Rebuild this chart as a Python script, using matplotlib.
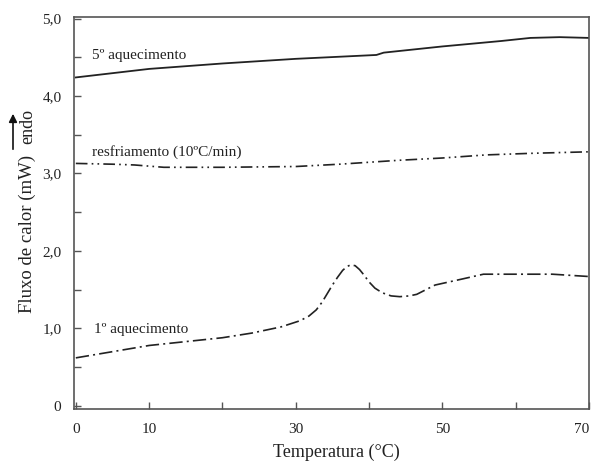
import numpy as np
import matplotlib
matplotlib.use("Agg")
import matplotlib.pyplot as plt
from matplotlib.patches import FancyArrowPatch

plt.rcParams['font.family'] = ['Liberation Serif', 'DejaVu Serif']

# 5º aquecimento (solid)
t_5aq = [0, 10, 20, 30, 41, 42, 50, 58, 62, 66, 70]
y_5aq = [4.24, 4.35, 4.42, 4.48, 4.53, 4.56, 4.64, 4.71, 4.75, 4.76, 4.75]

# resfriamento (10ºC/min)
t_resf = [0, 5, 8, 12, 20, 30, 36, 44, 50, 56, 62, 70]
y_resf = [3.13, 3.12, 3.11, 3.08, 3.08, 3.09, 3.12, 3.17, 3.20, 3.24, 3.26, 3.28]

# 1º aquecimento
t_1aq = [0, 5, 10, 15, 20, 24, 28, 30.6, 31.8, 32.8, 33.6, 34.3, 35, 35.7,
         36.4, 37, 37.5, 38.1, 38.7, 39.3, 40, 40.8, 41.8, 43, 44.2, 45.5,
         46.5, 49, 52.8, 55.6, 60, 65, 70]
y_1aq = [0.62, 0.70, 0.78, 0.83, 0.88, 0.94, 1.02, 1.10, 1.16, 1.24, 1.34, 1.45,
         1.56, 1.66, 1.75, 1.80, 1.82, 1.81, 1.76, 1.69, 1.60, 1.52, 1.46, 1.42,
         1.41, 1.42, 1.44, 1.56, 1.64, 1.70, 1.70, 1.70, 1.67]

xticks = [0, 10, 20, 30, 40, 50, 60, 70]
xtick_labels = ['0', '10', '', '30', '', '50', '', '70']
yticks = [0, 1, 2, 3, 4, 5]
ytick_labels = ['0', '1,0', '2,0', '3,0', '4,0', '5,0']

W, H = 594, 461
fig = plt.figure(figsize=(W / 100, H / 100), dpi=100)
ax = fig.add_axes([74 / W, 1 - 409 / H, (589 - 74) / W, (409 - 17) / H])

lc = '#222222'
ax.plot(t_5aq, y_5aq, color=lc, lw=1.3, solid_joinstyle='round')
ax.plot(t_resf, y_resf, color=lc, lw=1.2,
        linestyle=(0, (7, 2.5, 1, 2.5, 1, 2.5)))
ax.plot(t_1aq, y_1aq, color=lc, lw=1.2,
        linestyle=(0, (8, 2.5, 1.2, 2.5)))

ax.text(2.2, 4.52, '5º aquecimento', fontsize=11, va='center', color=lc)
ax.text(2.2, 3.28, 'resfriamento (10ºC/min)', fontsize=11, va='center', color=lc)
ax.text(2.5, 0.98, '1º aquecimento', fontsize=11, va='center', color=lc)

ax.set_xlim(-0.25, 70)
ax.set_ylim(-0.04, 5.02)
ax.set_xticks(xticks)
ax.set_xticklabels(xtick_labels)
ax.get_xticklabels()[-1].set_horizontalalignment('right')
ax.set_yticks(yticks)
ax.set_yticklabels(ytick_labels)
ax.set_yticks(np.arange(0.5, 5, 1.0), minor=True)

for s in ax.spines.values():
    s.set_color('#555555')
    s.set_linewidth(1.2)
ax.tick_params(which='both', direction='in', length=5, width=1.0,
               color='#555555', labelsize=11, labelcolor=lc)
ax.tick_params(axis='x', pad=10)
ax.tick_params(axis='y', pad=9)

fig.text(336 / W, 1 - 452 / H, 'Temperatura (°C)', fontsize=13,
         ha='center', va='center', color=lc)
fig.text(27 / W, 1 - 234 / H, 'Fluxo de calor (mW)', fontsize=13.5,
         rotation=90, ha='center', va='center', color=lc)
fig.text(28 / W, 1 - 127 / H, 'endo', fontsize=13,
         rotation=90, ha='center', va='center', color=lc)
fig.add_artist(FancyArrowPatch(
    (13 / W, 1 - 152 / H), (13 / W, 1 - 111 / H), transform=fig.transFigure,
    arrowstyle='-|>', mutation_scale=12, color='#111111', lw=1.2))

fig.savefig('out.png', dpi=100)
